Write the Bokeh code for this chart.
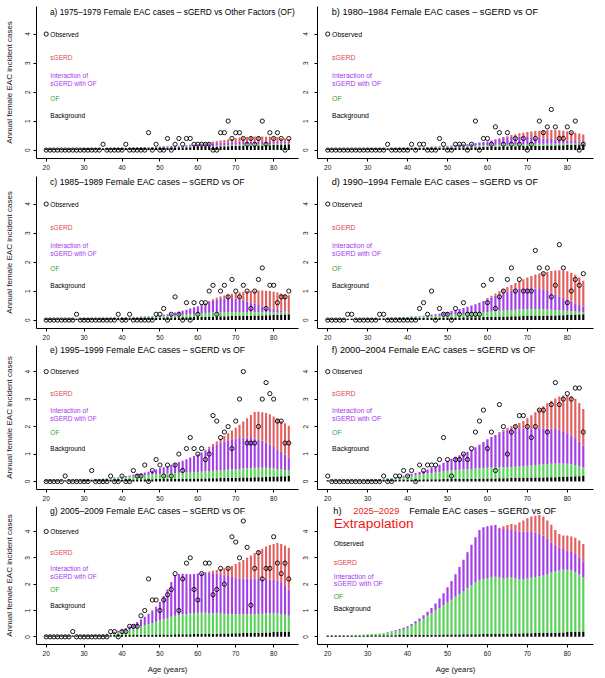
from bokeh.plotting import figure
from bokeh.layouts import column, row
from bokeh.models import Range1d, FixedTicker
from bokeh.core.properties import value
from bokeh.embed import file_html
from bokeh.resources import INLINE

# ---------------- data (ages 20..84) ----------------
ages = list(range(20, 85))
x_ticks = [20, 30, 40, 50, 60, 70, 80]
y_ticks = [0, 1, 2, 3, 4]

# Background contribution (black, bottom of every bar)
background = [.05,.05,.05,.05,.05, .05,.05,.05,.05,.05, .06,.06,.06,.06,.06, .06,.06,.06,.07,.07,
              .07,.07,.07,.07,.08, .08,.08,.08,.08,.09, .09,.09,.09,.09,.10, .10,.10,.10,.10,.11,
              .11,.11,.11,.12,.12, .12,.13,.13,.13,.14, .14,.14,.15,.15,.15, .16,.16,.16,.17,.17,
              .18,.18,.19,.19,.20]

# cumulative levels: *_of = top of OF (green), *_int = top of interaction (purple), *_tot = top of sGERD (red)
a_of = [.05,.05,.05,.05,.05, .05,.05,.05,.05,.05, .06,.06,.06,.06,.06, .07,.07,.07,.08,.08,
        .08,.08,.08,.09,.09, .09,.09,.10,.10,.10, .11,.11,.11,.11,.12, .12,.12,.12,.13,.13,
        .13,.13,.14,.14,.14, .16,.16,.17,.17,.18, .18,.18,.19,.19,.19, .20,.20,.20,.21,.21,
        .22,.22,.23,.23,.23]
a_int = [.05,.05,.05,.05,.05, .05,.05,.05,.05,.05, .06,.06,.06,.06,.06, .07,.07,.07,.08,.08,
         .08,.08,.08,.09,.09, .10,.10,.11,.11,.11, .12,.13,.13,.14,.15, .15,.16,.17,.18,.19,
         .20,.21,.22,.23,.24, .25,.26,.26,.27,.27, .27,.28,.28,.28,.28, .28,.28,.28,.28,.28,
         .28,.28,.28,.28,.28]
a_tot = [.05,.05,.05,.05,.05, .05,.05,.05,.05,.05, .06,.06,.06,.06,.06, .07,.07,.07,.08,.08,
         .08,.08,.08,.09,.09, .10,.10,.11,.11,.11, .12,.13,.13,.14,.15, .15,.16,.17,.18,.19,
         .21,.23,.25,.27,.29, .31,.33,.35,.37,.39, .41,.43,.44,.45,.46, .47,.47,.47,.46,.46,
         .45,.44,.42,.40,.38]
a_obs = [0,0,0,0,0, 0,0,0,0,0, 0,0,0,0,0, .2,0,0,0,0, 0,.2,0,0,0, 0,0,.6,0,.2,
         0,0,.4,0,.2, .4,.2,.4,.4,.2, .2,.2,.2,.2,0, 0,.6,.6,1.0,.4, .6,.6,.4,.2,.4,
         .2,.4,1.0,.2,.6, .4,.6,.4,0,.4]

b_of = [.05,.05,.05,.05,.05, .05,.05,.05,.05,.05, .06,.06,.06,.06,.07, .07,.07,.08,.08,.08,
        .09,.09,.09,.10,.10, .10,.11,.11,.11,.12, .12,.12,.13,.13,.14, .14,.15,.15,.16,.16,
        .17,.17,.18,.18,.19, .19,.20,.20,.20,.21, .21,.21,.22,.22,.22, .22,.22,.22,.23,.23,
        .23,.23,.23,.24,.24]
b_int = [.05,.05,.05,.05,.05, .05,.05,.05,.05,.05, .06,.06,.06,.06,.07, .07,.07,.08,.08,.08,
         .09,.09,.09,.10,.10, .11,.12,.12,.13,.14, .15,.16,.17,.19,.20, .20,.22,.24,.26,.28,
         .30,.33,.36,.39,.42, .44,.45,.46,.46,.46, .45,.44,.43,.42,.40, .39,.38,.36,.35,.34,
         .33,.32,.31,.30,.29]
b_tot = [.05,.05,.05,.05,.05, .05,.05,.05,.05,.05, .06,.06,.06,.06,.07, .07,.07,.08,.08,.08,
         .09,.09,.09,.10,.10, .11,.12,.12,.13,.14, .15,.16,.17,.19,.20, .20,.22,.24,.26,.28,
         .30,.33,.37,.41,.45, .48,.52,.55,.58,.60, .62,.64,.66,.67,.68, .69,.69,.69,.68,.67,
         .65,.63,.60,.57,.54]
b_obs = [0,0,0,0,0, 0,0,0,0,0, 0,0,0,0,0, .2,0,0,0,0, 0,.2,0,.2,.2, 0,0,0,.4,.2,
         0,0,.2,.2,.2, 0,.2,1.0,0,.4, .4,.2,.8,.6,.2, .6,.2,.4,.2,.4, 0,.2,.4,1.0,.6,
         .8,1.4,.8,.4,.4, .8,.6,1.0,0,.2]

c_of = [.05,.05,.05,.05,.05, .05,.05,.06,.06,.06, .06,.07,.07,.07,.07, .08,.08,.08,.09,.09,
        .09,.10,.10,.10,.11, .11,.12,.12,.13,.13, .14,.14,.15,.16,.16, .17,.18,.19,.20,.21,
        .22,.23,.24,.25,.26, .26,.27,.27,.28,.28, .28,.28,.28,.28,.28, .28,.28,.27,.27,.27,
        .27,.26,.26,.26,.25]
c_int = [.05,.05,.05,.05,.05, .05,.05,.06,.06,.06, .06,.07,.07,.07,.07, .08,.08,.08,.09,.09,
         .09,.10,.10,.10,.11, .12,.13,.13,.14,.15, .16,.18,.20,.23,.26, .29,.32,.36,.40,.44,
         .48,.53,.58,.62,.66, .70,.73,.75,.76,.76, .74,.71,.68,.64,.60, .56,.52,.48,.44,.41,
         .38,.35,.32,.30,.28]
c_tot = [.05,.05,.05,.05,.05, .05,.05,.06,.06,.06, .06,.07,.07,.07,.07, .08,.08,.08,.09,.09,
         .09,.10,.10,.10,.11, .12,.13,.13,.14,.15, .16,.18,.20,.23,.26, .29,.32,.36,.40,.44,
         .48,.54,.60,.66,.72, .77,.81,.85,.88,.91, .94,.96,.98,1.00,1.01, 1.02,1.02,1.02,1.01,1.00,
         .98,.95,.92,.89,.86]
c_obs = [0,0,0,0,0, 0,0,0,.2,0, 0,0,0,0,0, 0,0,0,0,.2, 0,0,.2,0,0, 0,0,0,0,.2,
         .2,.4,0,.2,.8, .2,0,.6,0,.6, .2,.6,.6,1.0,1.2, .2,1.0,1.2,.8,1.4, 1.0,.8,1.2,1.0,.4,
         1.0,1.4,1.8,.4,1.2, 1.2,.6,.8,.8,1.0]

d_of = [.05,.05,.05,.05,.05, .05,.06,.06,.06,.06, .07,.07,.07,.08,.08, .08,.09,.09,.10,.10,
        .11,.11,.12,.12,.13, .13,.14,.15,.15,.16, .17,.18,.19,.20,.21, .22,.23,.24,.26,.27,
        .28,.30,.31,.32,.33, .34,.35,.36,.37,.37, .38,.38,.38,.38,.37, .37,.36,.35,.34,.33,
        .32,.31,.30,.29,.28]
d_int = [.05,.05,.05,.05,.05, .05,.06,.06,.06,.06, .07,.07,.07,.08,.08, .08,.09,.09,.10,.10,
         .11,.12,.13,.14,.15, .16,.18,.20,.22,.25, .28,.31,.34,.38,.42, .46,.50,.55,.60,.66,
         .72,.78,.84,.89,.94, .98,1.02,1.05,1.07,1.09, 1.10,1.10,1.09,1.07,1.04, 1.00,.95,.89,.82,.76,
         .70,.64,.58,.52,.46]
d_tot = [.05,.05,.05,.05,.05, .05,.06,.06,.06,.06, .07,.07,.07,.08,.08, .08,.09,.09,.10,.10,
         .11,.12,.13,.14,.15, .16,.18,.20,.22,.25, .28,.31,.34,.38,.42, .46,.50,.55,.60,.66,
         .76,.84,.92,.99,1.06, 1.14,1.21,1.28,1.35,1.41, 1.47,1.52,1.57,1.61,1.64, 1.67,1.69,1.71,1.72,1.71,
         1.68,1.63,1.56,1.47,1.36]
d_obs = [0,0,0,0,0, .2,.2,0,0,0, 0,0,0,.2,.2, 0,0,0,0,0, 0,0,0,.4,.6, .2,1.0,0,.4,.2,
         .2,0,.4,.2,.6, .2,.2,.2,.2,1.2, .6,1.4,.4,.8,1.0, 1.4,1.8,1.0,1.4,1.0, 1.0,1.0,2.4,1.8,1.6,
         1.8,.8,1.2,2.6,1.8, .6,1.0,1.4,1.2,1.6]

e_of = [.05,.05,.05,.05,.06, .06,.06,.06,.07,.07, .07,.08,.08,.09,.09, .10,.11,.12,.13,.14,
        .15,.16,.18,.19,.20, .22,.23,.24,.25,.26, .27,.28,.29,.30,.31, .32,.32,.33,.33,.34,
        .35,.36,.37,.38,.39, .40,.41,.42,.43,.44, .45,.46,.47,.48,.49, .50,.50,.50,.50,.49,
        .48,.46,.44,.42,.40]
e_int = [.05,.05,.05,.05,.06, .06,.06,.06,.07,.07, .07,.08,.08,.09,.09, .11,.12,.13,.15,.16,
         .18,.20,.22,.25,.27, .30,.33,.36,.40,.44, .48,.52,.56,.61,.66, .71,.76,.81,.87,.93,
         .99,1.06,1.13,1.20,1.28, 1.35,1.41,1.46,1.50,1.54, 1.57,1.58,1.59,1.59,1.58, 1.56,1.53,1.48,1.42,1.35,
         1.26,1.17,1.08,.98,.87]
e_tot = [.05,.05,.05,.05,.06, .06,.06,.06,.07,.07, .07,.08,.08,.09,.09, .11,.12,.13,.15,.16,
         .18,.20,.22,.25,.27, .30,.33,.36,.40,.44, .48,.52,.56,.61,.66, .71,.76,.81,.87,.93,
         .99,1.06,1.17,1.27,1.37, 1.46,1.56,1.66,1.76,1.86, 1.96,2.07,2.18,2.30,2.42, 2.53,2.54,2.52,2.49,2.45,
         2.37,2.29,2.20,2.12,2.03]
e_obs = [0,0,0,0,0, .2,0,0,0,0, 0,0,.4,0,0, 0,0,.2,0,0, .2,0,0,.4,.2, .2,.6,0,.4,.8,
         .6,.2,.6,.2,.6, 1.0,.4,1.2,1.6,1.2, 1.0,1.2,.8,1.0,2.4, 2.2,1.6,1.8,2.0,1.2, 2.2,3.0,4.0,1.4,1.4,
         1.4,2.0,3.0,3.6,3.2, 3.0,2.2,2.2,1.4,1.4]

f_of = [.05,.05,.05,.05,.05, .05,.05,.06,.06,.06, .06,.07,.07,.08,.09, .10,.11,.13,.15,.17,
        .19,.21,.23,.25,.27, .29,.31,.33,.35,.37, .39,.41,.42,.43,.44, .45,.46,.47,.48,.49,
        .50,.51,.51,.52,.52, .53,.53,.54,.55,.56, .57,.58,.59,.61,.63, .64,.65,.66,.66,.66,
        .65,.63,.60,.56,.52]
f_int = [.05,.05,.05,.05,.05, .05,.05,.06,.06,.06, .06,.07,.07,.08,.09, .11,.13,.15,.18,.21,
         .24,.27,.31,.35,.39, .44,.49,.55,.61,.68, .76,.83,.90,.96,1.02, 1.08,1.16,1.25,1.34,1.44,
         1.54,1.62,1.69,1.76,1.83, 1.88,1.91,1.93,1.94,1.94, 1.94,1.94,1.94,1.94,1.94, 1.93,1.92,1.91,1.88,1.83,
         1.76,1.68,1.58,1.46,1.30]
f_tot = [.05,.05,.05,.05,.05, .05,.05,.06,.06,.06, .06,.07,.07,.08,.09, .11,.13,.15,.18,.21,
         .24,.27,.31,.35,.39, .44,.49,.55,.61,.68, .76,.83,.90,.96,1.02, 1.08,1.16,1.25,1.34,1.44,
         1.54,1.62,1.69,1.80,1.88, 1.95,2.01,2.07,2.13,2.20, 2.30,2.41,2.52,2.63,2.74, 2.85,2.94,3.02,3.09,3.13,
         3.14,3.10,3.01,2.86,2.64]
f_obs = [.2,0,0,0,0, 0,0,0,0,0, 0,0,0,0,.2, 0,0,.2,.2,.4, .2,.4,0,.6,.4, .6,.6,.6,.8,1.6,
         .8,.2,.8,.8,1.0, .8,1.2,1.8,2.2,2.6, 1.2,1.8,.4,2.8,2.0, 1.0,1.8,2.0,2.4,2.4, 2.0,1.6,2.0,2.6,2.6,
         1.8,2.8,3.6,2.8,3.0, 3.2,3.0,3.4,3.4,1.8]

g_of = [.05,.05,.05,.05,.05, .05,.05,.06,.06,.06, .06,.07,.07,.08,.08, .09,.10,.12,.14,.17,
        .20,.23,.27,.31,.36, .41,.45,.49,.53,.57, .62,.67,.72,.76,.80, .83,.85,.87,.89,.91,
        .92,.92,.92,.91,.90, .90,.89,.88,.87,.86, .86,.86,.86,.86,.86, .87,.87,.88,.89,.90,
        .90,.89,.87,.84,.80]
g_int = [.05,.05,.05,.05,.05, .05,.05,.06,.06,.06, .06,.07,.07,.08,.08, .10,.12,.15,.19,.23,
         .28,.34,.40,.47,.56, .66,.76,.88,1.00,1.14, 1.32,1.55,1.80,2.08,2.33, 2.39,2.40,2.39,2.38,2.39,
         2.41,2.43,2.45,2.44,2.42, 2.40,2.38,2.34,2.31,2.27, 2.25,2.23,2.22,2.22,2.22, 2.22,2.22,2.21,2.20,2.18,
         2.16,2.13,2.07,1.96,1.80]
g_tot = [.05,.05,.05,.05,.05, .05,.05,.06,.06,.06, .06,.07,.07,.08,.08, .10,.12,.15,.19,.23,
         .28,.34,.40,.47,.56, .66,.76,.88,1.00,1.14, 1.32,1.55,1.80,2.08,2.33, 2.39,2.40,2.39,2.38,2.39,
         2.41,2.43,2.45,2.48,2.51, 2.54,2.58,2.61,2.64,2.70, 2.77,2.84,2.92,3.00,3.09, 3.18,3.28,3.35,3.43,3.49,
         3.53,3.56,3.53,3.47,3.38]
g_obs = [0,0,0,0,0, 0,0,.2,0,0, 0,0,0,0,0, 0,0,.2,.2,0, .2,.2,.4,.4,.4, .8,1.0,2.2,1.4,1.4,
         1.0,1.4,1.6,1.8,2.4, 1.0,2.2,2.8,3.0,1.8, 1.4,2.4,2.8,2.8,1.6, 1.8,2.6,2.0,2.6,3.8, 3.6,3.0,4.4,3.4,1.2,
         2.6,3.2,2.2,2.6,2.6, 3.8,2.8,2.4,2.8,2.2]

h_of = [.05,.05,.05,.06,.06, .07,.07,.08,.08,.09, .10,.11,.12,.13,.15, .17,.19,.21,.24,.28,
        .35,.42,.50,.59,.69, .80,.90,1.00,1.10,1.20, 1.30,1.41,1.52,1.63,1.74, 1.85,1.96,2.06,2.16,2.20,
        2.22,2.25,2.28,2.25,2.22, 2.24,2.25,2.22,2.19,2.20, 2.22,2.24,2.27,2.30,2.33, 2.37,2.44,2.48,2.52,2.55,
        2.55,2.52,2.46,2.37,2.25]
h_int = [.05,.05,.05,.06,.06, .07,.07,.08,.08,.09, .10,.11,.12,.13,.15, .18,.21,.25,.30,.35,
         .40,.49,.59,.70,.82, .95,1.10,1.27,1.46,1.66, 1.88,2.12,2.38,2.65,2.93, 3.21,3.50,3.78,4.06,4.16,
         4.20,4.23,4.25,4.10,4.10, 4.10,4.06,4.03,4.00,4.00, 4.00,3.98,3.96,3.93,3.85, 3.72,3.58,3.48,3.40,3.34,
         3.28,3.22,3.15,3.02,2.86]
h_tot = [.05,.05,.05,.06,.06, .07,.07,.08,.08,.09, .10,.11,.12,.13,.15, .18,.21,.25,.30,.35,
         .40,.49,.59,.70,.82, .95,1.10,1.27,1.46,1.66, 1.88,2.12,2.38,2.65,2.93, 3.21,3.50,3.78,4.06,4.16,
         4.20,4.23,4.25,4.14,4.20, 4.25,4.29,4.26,4.34,4.42, 4.50,4.57,4.60,4.63,4.57, 4.42,4.26,4.06,3.91,3.85,
         3.85,3.81,3.76,3.66,3.53]

titles = {
    "a": "a) 1975–1979 Female EAC cases – sGERD vs Other Factors (OF)",
    "b": "b) 1980–1984 Female EAC cases – sGERD vs OF",
    "c": "c) 1985–1989 Female EAC cases – sGERD vs OF",
    "d": "d) 1990–1994 Female EAC cases – sGERD vs OF",
    "e": "e) 1995–1999 Female EAC cases – sGERD vs OF",
    "f": "f) 2000–2004 Female EAC cases – sGERD vs OF",
    "g": "g) 2005–2009 Female EAC cases – sGERD vs OF",
}
h_title_parts = ["h)", "2025–2029", "Female EAC cases – sGERD vs OF"]
legend_labels = ["Observed", "sGERD", "Interaction of", "sGERD with OF", "OF", "Background"]

# ---------------- styling / layout ----------------
FONT = "Liberation Sans"
C_BG, C_OF, C_INT, C_SG = "#000000", "#58D258", "#A33EE6", "#E26060"
T_OF, T_INT, T_SG = "#2FA52F", "#A435F0", "#E04848"
RED = "#F01818"

COL_W = [300, 304]
COL_BL = [36, 17]
COL_BR = [2, 11]
ROW_H = [172, 170, 161, 174]
ROW_BT = [6, 4, 3, 3]
ROW_BB = [13, 13, 13, 33]
TITLE_FS = {"a": "8.3px", "c": "8.7px", "e": "8.7px", "g": "8.7px",
            "b": "9.2px", "d": "9.2px", "f": "9.2px", "h": "9.2px"}
LEG_FS = ["6.5px", "6.9px"]
legend_y = [4.0, 3.2, 2.58, 2.29, 1.78, 1.2]
legend_y_h = [3.55, 2.83, 2.3, 2.03, 1.55, 1.06]
legend_cols = ["black", T_SG, T_INT, T_INT, T_OF, "black"]


def make_panel(col, r, of, inter, tot, obs, key):
    p = figure(width=COL_W[col], height=ROW_H[r],
               x_range=Range1d(17.44, 86.56), y_range=Range1d(-0.29, 4.95),
               output_backend="svg", toolbar_location=None, tools="",
               min_border_left=COL_BL[col], min_border_right=COL_BR[col],
               min_border_top=ROW_BT[r], min_border_bottom=ROW_BB[r])
    p.xgrid.visible = False
    p.ygrid.visible = False
    p.outline_line_color = None
    p.background_fill_color = "white"
    p.border_fill_color = "white"

    for ax, ticks in ((p.xaxis, x_ticks), (p.yaxis, y_ticks)):
        ax.ticker = FixedTicker(ticks=ticks)
        ax.minor_tick_line_color = None
        ax.major_tick_out = 3
        ax.major_tick_in = 0
        ax.axis_line_color = "black"
        ax.major_tick_line_color = "black"
        ax.major_label_text_font = FONT
        ax.major_label_text_font_size = "6.5px"
        ax.major_label_text_color = "#111111"
        ax.axis_label_text_font = FONT
        ax.axis_label_text_font_style = "normal"
        ax.axis_label_text_color = "#111111"
    p.xaxis.major_label_standoff = 3
    p.yaxis.major_label_orientation = "vertical"
    p.yaxis.major_label_standoff = 3 if col == 0 else 6
    if col == 0:
        p.yaxis.axis_label = "Annual female EAC incident cases"
        p.yaxis.axis_label_text_font_size = "8px"
        p.yaxis.axis_label_standoff = 9
    if r == 3:
        p.xaxis.axis_label = "Age (years)"
        p.xaxis.axis_label_text_font_size = "7.7px"
        p.xaxis.axis_label_standoff = 6

    w = 0.55
    p.vbar(x=ages, width=w, bottom=0, top=background, fill_color=C_BG, line_color=None)
    p.vbar(x=ages, width=w, bottom=background, top=of, fill_color=C_OF, line_color=None)
    p.vbar(x=ages, width=w, bottom=of, top=inter, fill_color=C_INT, line_color=None)
    p.vbar(x=ages, width=w, bottom=inter, top=tot, fill_color=C_SG, line_color=None)

    common = dict(text_font=value(FONT), text_baseline="middle", text_align="left")
    if obs is not None:
        p.scatter(x=ages, y=obs, marker="circle", size=4.2, fill_color=None,
                  line_color="black", line_width=0.9)
        p.text(x=[21.0], y=[4.77], text=[titles[key]], text_color="black",
               text_font_size=TITLE_FS[key], **common)
        # legend
        p.scatter(x=[20], y=[legend_y[0]], marker="circle", size=4.2, fill_color=None,
                  line_color="black", line_width=0.9)
        p.text(x=[21.1] * len(legend_labels), y=legend_y, text=legend_labels,
               text_color=legend_cols, text_font_size=LEG_FS[col], **common)
    else:
        p.text(x=[21.4, 26.4, 40.4], y=[4.77] * 3, text=h_title_parts,
               text_color=["black", RED, "black"], text_font_size=TITLE_FS[key], **common)
        p.text(x=[21.5], y=[4.31], text=["Extrapolation"], text_color=[RED],
               text_font_size="13.7px", **common)
        p.text(x=[21.5] * len(legend_labels), y=legend_y_h, text=legend_labels,
               text_color=legend_cols, text_font_size=LEG_FS[col], **common)
    return p


pa = make_panel(0, 0, a_of, a_int, a_tot, a_obs, "a")
pb = make_panel(1, 0, b_of, b_int, b_tot, b_obs, "b")
pc = make_panel(0, 1, c_of, c_int, c_tot, c_obs, "c")
pd = make_panel(1, 1, d_of, d_int, d_tot, d_obs, "d")
pe = make_panel(0, 2, e_of, e_int, e_tot, e_obs, "e")
pf = make_panel(1, 2, f_of, f_int, f_tot, f_obs, "f")
pg = make_panel(0, 3, g_of, g_int, g_tot, g_obs, "g")
ph = make_panel(1, 3, h_of, h_int, h_tot, None, "h")

layout = column(row(pa, pb), row(pc, pd), row(pe, pf), row(pg, ph))

with open("out.html", "w") as fh:
    fh.write(file_html(layout, INLINE))
